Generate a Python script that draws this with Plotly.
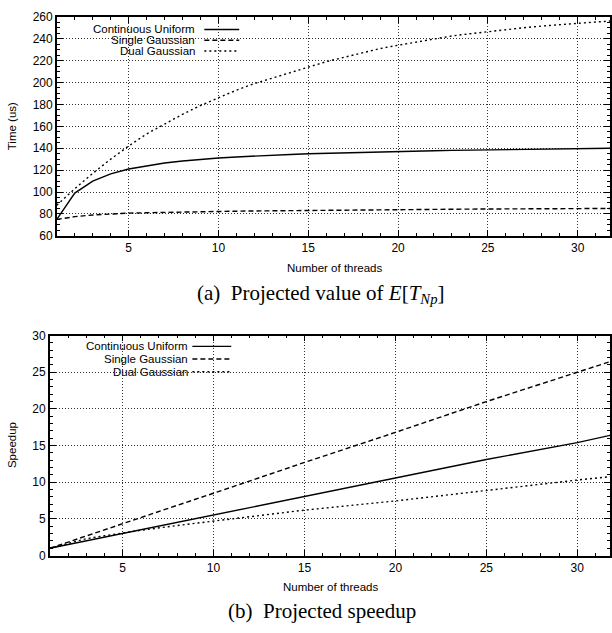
import plotly.graph_objects as go

# ---------------- data ----------------
threads = list(range(1, 33))

time_uniform = [75, 99, 110, 116.5, 121, 124, 126.5, 128.3, 129.8, 131, 132, 132.9,
                133.6, 134.3, 134.9, 135.4, 135.9, 136.3, 136.7, 137.1, 137.4, 137.7,
                138.0, 138.3, 138.5, 138.8, 139.0, 139.2, 139.4, 139.6, 139.8, 140.0]
time_single = [75, 77.5, 79, 80, 80.7, 81.1, 81.5, 81.8, 82.1, 82.3, 82.5, 82.7,
               82.9, 83.1, 83.3, 83.4, 83.6, 83.7, 83.9, 84.0, 84.1, 84.2,
               84.3, 84.4, 84.5, 84.6, 84.7, 84.8, 84.85, 84.9, 84.95, 85.0]
time_dual = [88, 103, 117, 130, 142, 153, 162, 171, 179, 186, 193, 199,
             204, 209, 214, 219, 223, 227, 231, 234, 237, 240,
             242.5, 244.5, 246.5, 248.5, 250, 251.5, 253, 254, 255.2, 256.3]

speed_x = [1, 2, 3, 4, 5, 6, 8, 10, 12, 15, 20, 25, 30, 32]
speed_uniform = [1, 1.5, 2.0, 2.5, 3.0, 3.5, 4.5, 5.5, 6.5, 8.0, 10.5, 13.1, 15.4, 16.5]
speed_single = [1, 1.85, 2.7, 3.55, 4.4, 5.2, 6.85, 8.5, 10.2, 12.7, 16.8, 21.0, 25.0, 26.6]
speed_dual = [1, 1.7, 2.3, 2.7, 3.1, 3.45, 4.1, 4.7, 5.3, 6.2, 7.45, 8.9, 10.3, 10.8]

series_names = ["Continuous Uniform", "Single Gaussian", "Dual Gaussian"]
x_ticks = [5, 10, 15, 20, 25, 30]

# ---------------- styles ----------------
W, H = 612, 633
dashes = ["solid", "5px,3px", "2px,3px"]
LW = 1.4
SANS = "Liberation Sans, Arial, sans-serif"
SERIF = "Liberation Serif, Times New Roman, serif"

fig = go.Figure()

for ys, nm, d in zip([time_uniform, time_single, time_dual], series_names, dashes):
    fig.add_trace(go.Scatter(x=threads, y=ys, mode="lines", name=nm, showlegend=False,
                             line=dict(color="black", width=LW, dash=d),
                             xaxis="x", yaxis="y"))
for ys, nm, d in zip([speed_uniform, speed_single, speed_dual], series_names, dashes):
    fig.add_trace(go.Scatter(x=speed_x, y=ys, mode="lines", name=nm, showlegend=False,
                             line=dict(color="black", width=LW, dash=d),
                             xaxis="x2", yaxis="y2"))

def px_x(p):
    return p / W

def px_y(p):
    return 1 - p / H

axis_common = dict(
    showline=True, linecolor="black", linewidth=1.5, mirror="allticks",
    ticks="inside", ticklen=6, tickwidth=1, tickcolor="black",
    showgrid=True, gridcolor="#333", gridwidth=1, griddash="1px,2px",
    zeroline=False, tickfont=dict(family=SANS, size=12, color="black"),
)

top_dom_y = [px_y(234), px_y(10)]
bot_dom_y = [px_y(561), px_y(336)]

minor_common = dict(ticks="inside", ticklen=3, tickcolor="black", showgrid=False)

fig.update_layout(
    width=W, height=H, margin=dict(l=0, r=0, t=0, b=0),
    plot_bgcolor="white", paper_bgcolor="white", showlegend=False,
    xaxis=dict(domain=[px_x(57), 1], range=[1, 31.8], tickvals=x_ticks, anchor="y",
               minor=dict(dtick=1, tick0=0, **minor_common), **axis_common),
    yaxis=dict(domain=top_dom_y, range=[60, 260], dtick=20, tick0=0, anchor="x",
               minor=dict(dtick=5, tick0=0, **minor_common), **axis_common),
    xaxis2=dict(domain=[px_x(50), 1], range=[1, 31.8], tickvals=x_ticks, anchor="y2",
                minor=dict(dtick=1, tick0=0, **minor_common), **axis_common),
    yaxis2=dict(domain=bot_dom_y, range=[0, 30], dtick=5, tick0=0, anchor="x2",
                minor=dict(dtick=1, tick0=0, **minor_common), **axis_common),
)

shapes = []
annots = []

def note(text, x, y, size, family=SANS, angle=0, xanchor="center"):
    annots.append(dict(text=text, x=px_x(x), y=px_y(y), xref="paper", yref="paper",
                       xanchor=xanchor, yanchor="middle", showarrow=False, textangle=angle,
                       borderpad=0, font=dict(family=family, size=size, color="black")))

# legend boxes (white) that hide the grid
shapes.append(dict(type="rect", xref="paper", yref="paper", layer="between",
                   x0=px_x(58), x1=px_x(246), y0=px_y(53), y1=px_y(11),
                   fillcolor="white", line=dict(width=0)))
shapes.append(dict(type="rect", xref="paper", yref="paper", layer="between",
                   x0=px_x(51), x1=px_x(240), y0=px_y(379), y1=px_y(337),
                   fillcolor="white", line=dict(width=0)))

# legend entries
for rows, tx, lx0, lx1 in [([23, 34, 45], 197, 205, 240), ([347, 360, 373], 190, 193, 232)]:
    for ry, nm, d in zip(rows, series_names, dashes):
        note(nm, tx, ry, 11.5, xanchor="right")
        shapes.append(dict(type="line", xref="paper", yref="paper", layer="above",
                           x0=px_x(lx0), x1=px_x(lx1), y0=px_y(ry), y1=px_y(ry),
                           line=dict(color="black", width=LW, dash=d)))

# axis titles
note("Time (us)", 12, 122, 11.5, angle=-90)
note("Speedup", 12, 448, 11.5, angle=-90)
note("Number of threads", 336, 267, 11.5)
note("Number of threads", 332, 593, 11.5)

# captions
note("(a)  Projected value of <i>E</i>[<i>T</i><sub><i>Np</i></sub>]", 322, 294, 21, family=SERIF)
note("(b)  Projected speedup", 323, 618, 21, family=SERIF)

fig.update_layout(shapes=shapes, annotations=annots)
fig.write_html("out.html", config={"displayModeBar": False},
               post_script="document.body.style.margin='0px';")
